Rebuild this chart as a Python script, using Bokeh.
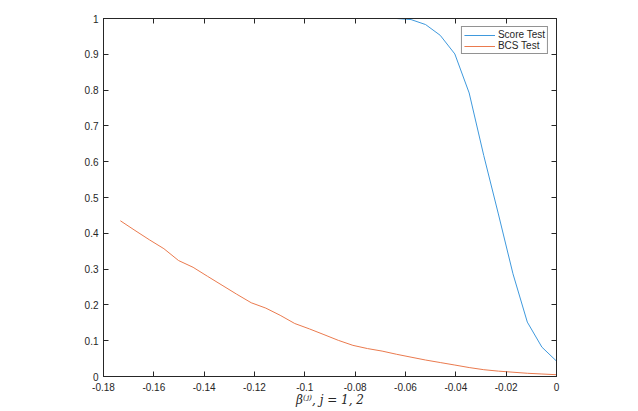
from bokeh.plotting import figure
from bokeh.models import Range1d, FixedTicker, LinearAxis
from bokeh.embed import file_html
from bokeh.resources import INLINE

# ---- data ----
beta = [-0.1733, -0.1675, -0.1618, -0.1560, -0.1502, -0.1444, -0.1387, -0.1329,
        -0.1271, -0.1213, -0.1155, -0.1098, -0.1040, -0.0982, -0.0924, -0.0867,
        -0.0809, -0.0751, -0.0693, -0.0635, -0.0578, -0.0520, -0.0462, -0.0404,
        -0.0347, -0.0289, -0.0231, -0.0173, -0.0116, -0.0058, 0.0]
score_test = [1.0, 1.0, 1.0, 1.0, 1.0, 1.0, 1.0, 1.0, 1.0, 1.0,
              1.0, 1.0, 1.0, 1.0, 1.0, 1.0, 1.0, 1.0, 1.0, 1.0,
              0.997, 0.983, 0.953, 0.901, 0.792, 0.617, 0.454, 0.287, 0.152, 0.082, 0.043]
bcs_test = [0.435, 0.408, 0.382, 0.357, 0.324, 0.305, 0.280, 0.255, 0.230, 0.206,
            0.191, 0.171, 0.148, 0.133, 0.117, 0.101, 0.087, 0.078, 0.071, 0.062,
            0.054, 0.046, 0.039, 0.032, 0.025, 0.019, 0.015, 0.012, 0.009, 0.007, 0.005]
x_ticks = [-0.18, -0.16, -0.14, -0.12, -0.1, -0.08, -0.06, -0.04, -0.02, 0]
x_tick_labels = ["-0.18", "-0.16", "-0.14", "-0.12", "-0.1", "-0.08", "-0.06", "-0.04", "-0.02", "0"]
y_ticks = [0, 0.1, 0.2, 0.3, 0.4, 0.5, 0.6, 0.7, 0.8, 0.9, 1]
y_tick_labels = ["0", "0.1", "0.2", "0.3", "0.4", "0.5", "0.6", "0.7", "0.8", "0.9", "1"]
series_names = ["Score Test", "BCS Test"]
x_label = "β⁽ʲ⁾, j = 1, 2"

AX = "#262626"
FONT = "Liberation Sans"

p = figure(width=630, height=410, output_backend="svg", toolbar_location=None,
           x_range=Range1d(-0.18, 0), y_range=Range1d(0, 1),
           min_border_left=103, min_border_right=74, min_border_top=18, min_border_bottom=34)
p.background_fill_color = "white"
p.border_fill_color = "white"
p.outline_line_color = AX
p.outline_line_width = 1
p.xgrid.visible = False
p.ygrid.visible = False

p.line(beta, score_test, line_color="#3F99DD", line_width=1, legend_label=series_names[0])
p.line(beta, bcs_test, line_color="#EA7A4E", line_width=1, legend_label=series_names[1])


def style_axis(ax, ticks, labels, show_labels=True):
    ax.ticker = FixedTicker(ticks=ticks)
    ax.major_label_overrides = {t: l for t, l in zip(ticks, labels)}
    ax.major_tick_in = 5
    ax.major_tick_out = 0
    ax.minor_tick_in = 0
    ax.minor_tick_out = 0
    ax.axis_line_color = AX
    ax.major_tick_line_color = AX
    ax.major_label_text_color = AX
    ax.major_label_text_font = FONT
    ax.major_label_text_font_size = "10px" if show_labels else "0px"
    ax.major_label_standoff = 5 if show_labels else 0


style_axis(p.xaxis[0], x_ticks, x_tick_labels)
style_axis(p.yaxis[0], y_ticks, y_tick_labels)
p.xaxis[0].major_label_standoff = 6
p.xaxis[0].axis_label = x_label
p.xaxis[0].axis_label_standoff = -1
p.xaxis[0].axis_label_text_font = "DejaVu Serif"
p.xaxis[0].axis_label_text_font_style = "italic"
p.xaxis[0].axis_label_text_font_size = "12px"
p.xaxis[0].axis_label_text_color = AX

top_ax = LinearAxis()
style_axis(top_ax, x_ticks, ["" for _ in x_ticks], show_labels=False)
p.add_layout(top_ax, "above")
right_ax = LinearAxis()
style_axis(right_ax, y_ticks, ["" for _ in y_ticks], show_labels=False)
p.add_layout(right_ax, "right")

lg = p.legend[0]
lg.location = "top_right"
lg.margin = 8
lg.padding = 2
lg.spacing = 0
lg.glyph_width = 31
lg.glyph_height = 10
lg.label_height = 10
lg.label_standoff = 3
lg.label_text_font = FONT
lg.label_text_font_size = "10px"
lg.label_text_color = AX
lg.border_line_color = AX
lg.border_line_width = 0.5
lg.background_fill_color = "white"

open("out.html", "w").write(file_html(p, INLINE))
